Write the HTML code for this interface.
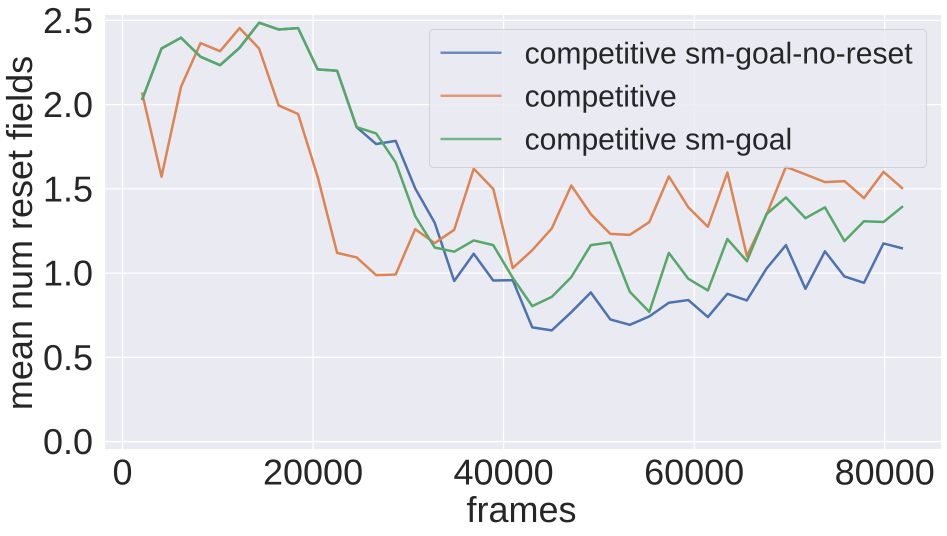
<!DOCTYPE html>
<html lang="en">
<head>
<meta charset="utf-8">
<title>mean num reset fields vs frames</title>
<style>
  html, body { margin: 0; padding: 0; background: #fff; }
  svg { display: block; font-family: "Liberation Sans", Arial, sans-serif; fill: #262626; text-rendering: geometricPrecision; }
</style>
</head>
<body>
<svg id="chart" xmlns="http://www.w3.org/2000/svg" width="947" height="536" viewBox="0 0 947 536">
  <rect x="105" y="15" width="836" height="434" fill="#EAEAF2"/>
  <g id="grid"></g>
  <g id="series"></g>
  <g id="ticks"></g>
  <text x="521.5" y="522" font-size="36" text-anchor="middle">frames</text>
  <text transform="translate(32,233) rotate(-90)" font-size="36" text-anchor="middle">mean num reset fields</text>
  <g>
    <rect x="429.5" y="29.5" width="497" height="138" rx="4" ry="4" fill="#EAEAF2" fill-opacity="0.8" stroke="#CCCCCC" stroke-opacity="0.8" stroke-width="1"/>
    <g>
      <line x1="440.5" x2="501.5" y1="52.7" y2="52.7" stroke="#4C72B0" stroke-opacity="0.8" stroke-width="2.5"/>
      <text x="524.6" y="63.7" font-size="30.1">competitive sm-goal-no-reset</text>
    </g>
    <g>
      <line x1="440.5" x2="501.5" y1="95.7" y2="95.7" stroke="#DD8452" stroke-opacity="0.8" stroke-width="2.5"/>
      <text x="524.6" y="106.7" font-size="30.1">competitive</text>
    </g>
    <g>
      <line x1="440.5" x2="501.5" y1="139" y2="139" stroke="#55A868" stroke-opacity="0.8" stroke-width="2.5"/>
      <text x="524.6" y="149.5" font-size="30.1">competitive sm-goal</text>
    </g>
  </g>
</svg>
<script>
const frames = [2048,4096,6144,8192,10240,12288,14336,16384,18432,20480,22528,24576,26624,28672,30720,32768,34816,36864,38912,40960,43008,45056,47104,49152,51200,53248,55296,57344,59392,61440,63488,65536,67584,69632,71680,73728,75776,77824,79872,81920];
const noResetValues = [2.027,2.333,2.397,2.284,2.234,2.337,2.486,2.446,2.454,2.209,2.201,1.866,1.766,1.785,1.503,1.299,0.953,1.115,0.956,0.958,0.678,0.660,0.768,0.885,0.725,0.693,0.743,0.824,0.840,0.739,0.877,0.838,1.026,1.166,0.907,1.129,0.980,0.942,1.176,1.146];
const competitiveValues = [2.072,1.572,2.106,2.365,2.317,2.454,2.333,1.995,1.944,1.572,1.120,1.093,0.988,0.992,1.261,1.178,1.257,1.619,1.500,1.030,1.136,1.265,1.520,1.350,1.233,1.227,1.303,1.574,1.390,1.275,1.597,1.101,1.345,1.631,1.586,1.540,1.546,1.445,1.601,1.500];
const smGoalValues = [2.027,2.333,2.397,2.284,2.234,2.337,2.486,2.446,2.454,2.209,2.201,1.866,1.829,1.657,1.338,1.152,1.127,1.194,1.166,0.972,0.804,0.859,0.976,1.166,1.182,0.889,0.770,1.120,0.966,0.897,1.202,1.071,1.350,1.449,1.326,1.390,1.190,1.308,1.303,1.397];
const xTickValues = [0,20000,40000,60000,80000];
const xTickLabels = ["0","20000","40000","60000","80000"];
const yTickValues = [0,0.5,1,1.5,2,2.5];
const yTickLabels = ["0.0","0.5","1.0","1.5","2.0","2.5"];

const SVG_NS = "http://www.w3.org/2000/svg";
const plot = { left: 105, right: 941, top: 15, bottom: 449 };
function xScale(v) { return 122.5 + v * (190.55 / 20000); }
function yScale(v) { return 441.6 - v * (84.25 / 0.5); }

const gridGroup = document.getElementById("grid");
const seriesGroup = document.getElementById("series");
const tickGroup = document.getElementById("ticks");

xTickValues.forEach(function (v, i) {
  const line = document.createElementNS(SVG_NS, "line");
  
  
  line.setAttribute("x1", xScale(v));
  line.setAttribute("x2", xScale(v));
  line.setAttribute("y1", plot.top);
  line.setAttribute("y2", plot.bottom);
  line.setAttribute("stroke", "#FFFFFF");
  line.setAttribute("stroke-width", "1.2");
  gridGroup.appendChild(line);

  const label = document.createElementNS(SVG_NS, "text");
  
  
  label.setAttribute("x", xScale(v));
  label.setAttribute("y", 484.5);
  label.setAttribute("font-size", "36");
  label.setAttribute("text-anchor", "middle");
  label.textContent = xTickLabels[i];
  tickGroup.appendChild(label);
});

yTickValues.forEach(function (v, i) {
  const line = document.createElementNS(SVG_NS, "line");
  
  
  line.setAttribute("x1", plot.left);
  line.setAttribute("x2", plot.right);
  line.setAttribute("y1", yScale(v));
  line.setAttribute("y2", yScale(v));
  line.setAttribute("stroke", "#FFFFFF");
  line.setAttribute("stroke-width", "1.2");
  gridGroup.appendChild(line);

  const label = document.createElementNS(SVG_NS, "text");
  
  
  label.setAttribute("x", 93);
  label.setAttribute("y", yScale(v) + 12.5);
  label.setAttribute("font-size", "36");
  label.setAttribute("text-anchor", "end");
  label.textContent = yTickLabels[i];
  tickGroup.appendChild(label);
});

function drawSeries(values, color, name) {
  const path = document.createElementNS(SVG_NS, "polyline");
  
  
  path.setAttribute("fill", "none");
  path.setAttribute("stroke", color);
  path.setAttribute("stroke-width", "2.5");
  path.setAttribute("stroke-linejoin", "round");
  path.setAttribute("points", values.map(function (v, i) {
    return xScale(frames[i]).toFixed(2) + "," + yScale(v).toFixed(2);
  }).join(" "));
  seriesGroup.appendChild(path);
}

drawSeries(noResetValues, "#4C72B0", "line-competitive-sm-goal-no-reset");
drawSeries(competitiveValues, "#DD8452", "line-competitive");
drawSeries(smGoalValues, "#55A868", "line-competitive-sm-goal");
</script>
</body>
</html>
